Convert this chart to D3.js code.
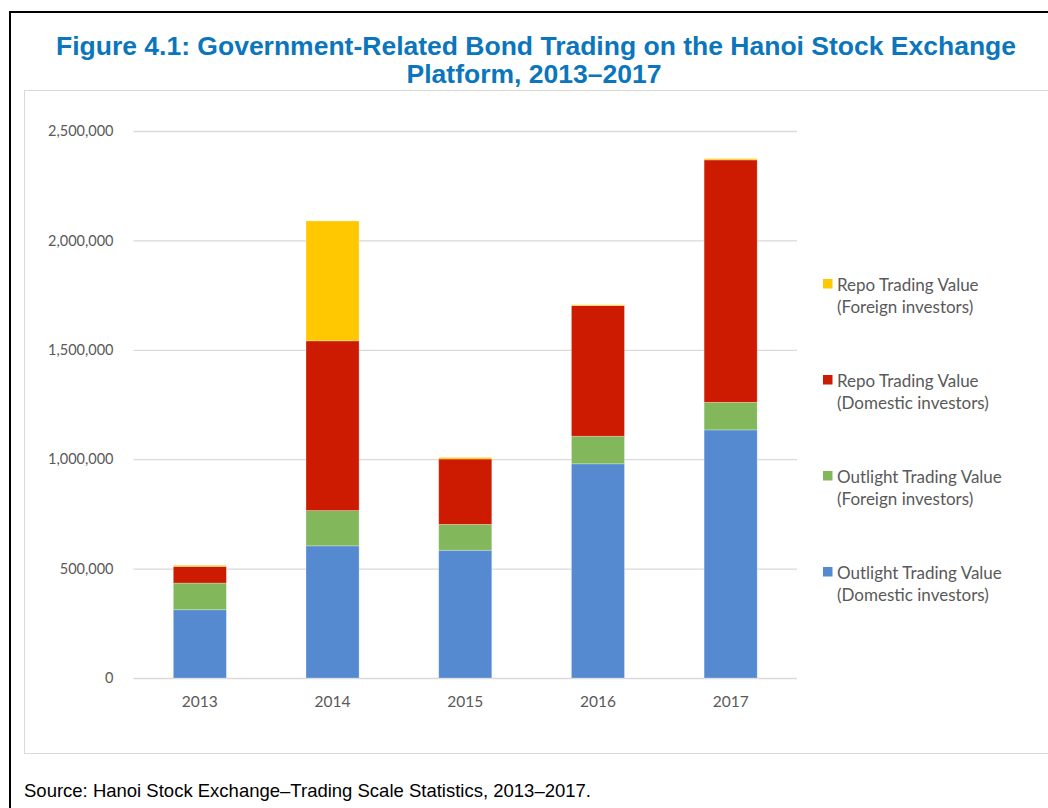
<!DOCTYPE html>
<html>
<head>
<meta charset="utf-8">
<script src="https://cdn.jsdelivr.net/npm/d3@7"></script>
<style>
  body { margin: 0; background: #fff; }
  svg { display: block; }
</style>
</head>
<body>
<div id="chart"></div>
<script>
// Chart data (values in VND million)
var years = ["2013", "2014", "2015", "2016", "2017"];
var outrightDomestic = [312000, 604000, 584000, 979000, 1134000];
var outrightForeign = [122000, 161000, 118000, 126000, 126000];
var repoDomestic = [76000, 776000, 299000, 597000, 1108000];
var repoForeign = [5000, 548000, 7000, 4000, 6000];
var seriesKeys = ["od", "of", "rd", "rf"];
var seriesLines = [
    ["Outlight Trading Value", "(Domestic investors)"],
    ["Outlight Trading Value", "(Foreign investors)"],
    ["Repo Trading Value", "(Domestic investors)"],
    ["Repo Trading Value", "(Foreign investors)"]
];
var yTicks = [0, 500000, 1000000, 1500000, 2000000, 2500000];

var colors = {od: "#5589d0", of: "#82b75b", rd: "#cc1b00", rf: "#ffc800"};
var width = 1048, height = 808;

var rows = years.map(function(y, i) {
    return {year: y, od: outrightDomestic[i], of: outrightForeign[i],
            rd: repoDomestic[i], rf: repoForeign[i]};
});

var svg = d3.select("#chart").append("svg")
    .attr("width", width)
    .attr("height", height);

// outer frame and inner chart area frame
svg.append("rect")
    .attr("x", 10).attr("y", 12)
    .attr("width", 1200).attr("height", 1000)
    .attr("fill", "none").attr("stroke", "#000").attr("stroke-width", 2);
svg.append("rect")
    .attr("x", 24.5).attr("y", 90.5)
    .attr("width", 1200).attr("height", 663)
    .attr("fill", "none").attr("stroke", "#d9d9d9").attr("stroke-width", 1);

// title
var title = svg.append("text")
    .attr("text-anchor", "middle")
    .attr("font-family", "'Liberation Sans', Arial, sans-serif")
    .attr("font-weight", "bold")
    .attr("font-size", "26.5px")
    .attr("fill", "#0b76bc");
title.append("tspan").attr("x", 536).attr("y", 55)
    .text("Figure 4.1: Government-Related Bond Trading on the Hanoi Stock Exchange");
title.append("tspan").attr("x", 534).attr("y", 83)
    .text("Platform, 2013\u20132017");

var x = d3.scaleBand()
    .domain(years)
    .range([133.5, 797])
    .paddingInner(0.6)
    .paddingOuter(0.3);

var y = d3.scaleLinear()
    .domain([0, 2500000])
    .range([678, 131]);

var labelFont = "Lato, 'Open Sans', sans-serif";

// gridlines + y labels
var yAxis = svg.append("g")
    .attr("transform", "translate(133.5,0)")
    .call(d3.axisLeft(y).tickValues(yTicks)
        .tickSize(-663.5).tickPadding(20)
        .tickFormat(d3.format(",")));
yAxis.select(".domain").remove();
yAxis.selectAll(".tick line").attr("stroke", "#d9d9d9").attr("stroke-width", 1.3);
yAxis.selectAll(".tick text")
    .attr("fill", "#595959")
    .attr("font-family", labelFont)
    .attr("font-size", "14.5px");

// stacked bars
var stack = d3.stack().keys(seriesKeys);
var layers = stack(rows);

svg.append("g").selectAll("g")
    .data(layers)
    .enter().append("g")
    .attr("fill", function(d) { return colors[d.key]; })
    .selectAll("rect")
    .data(function(d) { return d; })
    .enter().append("rect")
    .attr("x", function(d) { return x(d.data.year); })
    .attr("width", x.bandwidth())
    .attr("y", function(d) { return y(d[1]); })
    .attr("height", function(d) { return y(d[0]) - y(d[1]); })
    .attr("stroke", "#fff")
    .attr("stroke-opacity", 0.35)
    .attr("stroke-width", 0.8);

// x labels
var xAxis = svg.append("g")
    .attr("transform", "translate(0,678)")
    .call(d3.axisBottom(x).tickSize(0).tickPadding(18));
xAxis.select(".domain").remove();
xAxis.selectAll(".tick text")
    .attr("fill", "#595959")
    .attr("font-family", labelFont)
    .attr("font-size", "15.5px");

// legend, top entry is the top of the stack
var legendOrder = seriesKeys.slice().reverse();
var legend = svg.append("g").selectAll("g")
    .data(legendOrder)
    .enter().append("g")
    .attr("transform", function(d, i) { return "translate(823," + (279 + i * 96) + ")"; });
legend.append("rect")
    .attr("width", 9.5).attr("height", 9.5)
    .attr("fill", function(d) { return colors[d]; });
legend.each(function(d) {
    var lines = seriesLines[seriesKeys.indexOf(d)];
    var t = d3.select(this).append("text")
        .attr("fill", "#595959")
        .attr("font-family", labelFont)
        .attr("font-size", "17px");
    t.append("tspan").attr("x", 14).attr("y", 11.5).text(lines[0]);
    t.append("tspan").attr("x", 14).attr("y", 34).text(lines[1]);
});

// source note
svg.append("text")
    .attr("x", 24).attr("y", 797)
    .attr("font-family", "'Liberation Sans', Arial, sans-serif")
    .attr("font-size", "18.5px")
    .attr("fill", "#000")
    .text("Source: Hanoi Stock Exchange\u2013Trading Scale Statistics, 2013\u20132017.");
</script>
</body>
</html>
